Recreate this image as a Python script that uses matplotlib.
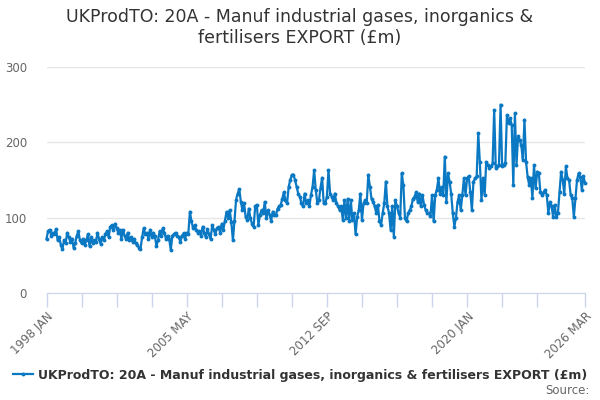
import numpy as np
import matplotlib
matplotlib.use('Agg')
import matplotlib.pyplot as plt

# ── Data: monthly values, 1998 JAN .. 2026 MAR (£m) ───────────────────────────
y1998 = [72, 82, 84, 76, 80, 78, 85, 70, 74, 64, 58, 70]
y1999 = [66, 80, 74, 68, 72, 60, 66, 76, 82, 70, 66, 72]
y2000 = [64, 70, 78, 62, 74, 66, 70, 68, 80, 72, 65, 74]
y2001 = [70, 78, 82, 74, 88, 90, 84, 92, 86, 80, 84, 72]
y2002 = [84, 76, 72, 80, 70, 74, 68, 72, 66, 64, 60, 58]
y2003 = [74, 86, 78, 80, 72, 84, 74, 80, 76, 62, 70, 82]
y2004 = [76, 86, 80, 72, 76, 72, 57, 76, 78, 80, 76, 74]
y2005 = [68, 76, 79, 72, 80, 78, 108, 95, 86, 90, 84, 80]
y2006 = [82, 76, 88, 80, 74, 85, 78, 72, 90, 84, 78, 86]
y2007 = [88, 80, 92, 84, 96, 108, 100, 110, 94, 70, 96, 124]
y2008 = [132, 138, 121, 110, 119, 101, 97, 112, 99, 92, 88, 115]
y2009 = [117, 90, 104, 110, 106, 121, 99, 110, 104, 96, 108, 103]
y2010 = [103, 112, 115, 117, 125, 134, 123, 119, 141, 150, 157, 157]
y2011 = [150, 141, 132, 128, 119, 115, 132, 119, 123, 115, 130, 141]
y2012 = [163, 137, 119, 123, 140, 153, 119, 119, 128, 163, 132, 128]
y2013 = [123, 132, 119, 115, 110, 115, 97, 123, 99, 125, 95, 123]
y2014 = [97, 106, 78, 101, 110, 132, 97, 119, 123, 120, 157, 141]
y2015 = [125, 121, 115, 106, 117, 96, 90, 106, 119, 148, 115, 106]
y2016 = [84, 115, 75, 123, 115, 106, 100, 159, 143, 99, 95, 106]
y2017 = [110, 115, 125, 128, 134, 121, 132, 115, 130, 117, 110, 106]
y2018 = [106, 102, 130, 95, 130, 137, 152, 132, 141, 130, 181, 121]
y2019 = [159, 148, 132, 106, 88, 100, 121, 130, 110, 130, 152, 130]
y2020 = [152, 155, 134, 110, 148, 152, 155, 212, 174, 123, 152, 130]
y2021 = [174, 170, 166, 168, 172, 243, 166, 168, 170, 250, 168, 170]
y2022 = [172, 236, 225, 232, 223, 143, 239, 170, 208, 203, 196, 177]
y2023 = [230, 174, 154, 143, 152, 126, 170, 139, 161, 159, 134, 130]
y2024 = [134, 137, 130, 106, 121, 115, 101, 117, 101, 106, 134, 161]
y2025 = [150, 132, 168, 152, 150, 130, 126, 101, 126, 150, 159, 154]
y2026 = [137, 155, 146]

values = (y1998 + y1999 + y2000 + y2001 + y2002 + y2003 + y2004 + y2005 +
          y2006 + y2007 + y2008 + y2009 + y2010 + y2011 + y2012 + y2013 +
          y2014 + y2015 + y2016 + y2017 + y2018 + y2019 + y2020 + y2021 +
          y2022 + y2023 + y2024 + y2025 + y2026)

tick_labels = {0: '1998 JAN', 88: '2005 MAY', 176: '2012 SEP',
               264: '2020 JAN', 338: '2026 MAR'}
y_ticks = [0, 100, 200, 300]

title = 'UKProdTO: 20A - Manuf industrial gases, inorganics &\nfertilisers EXPORT (£m)'
series_name = 'UKProdTO: 20A - Manuf industrial gases, inorganics & fertilisers EXPORT (£m)'

# ── Figure ────────────────────────────────────────────────────────────────────
W, H = 600, 400
fig = plt.figure(figsize=(6, 4), dpi=100)
ax = fig.add_axes([46.5 / W, (H - 293) / H, (585 - 46.5) / W, (293 - 67) / H])

line_color = '#0a78c2'
months = np.arange(len(values))
line, = ax.plot(months, values, color=line_color, linewidth=1.6,
                marker='o', markersize=2.8, markeredgewidth=0, clip_on=False)

ax.set_xlim(0, len(values) - 1)
ax.set_ylim(0, 300)
ax.set_yticks(y_ticks)
ax.set_yticklabels([str(t) for t in y_ticks])
ax.grid(axis='y', color='#e6e6e6', linewidth=1)
ax.set_axisbelow(True)

major = list(range(0, 309, 22)) + [338]
ax.set_xticks(major)
ax.set_xticklabels([tick_labels.get(m, '') for m in major],
                   rotation=45, ha='right', rotation_mode='anchor')

for side in ('top', 'right', 'left'):
    ax.spines[side].set_visible(False)
ax.spines['bottom'].set_color('#ccd6eb')
ax.tick_params(axis='x', colors='#ccd6eb', length=10, width=1,
               labelcolor='#666666', labelsize=8.5, pad=2)
ax.tick_params(axis='y', length=0, labelcolor='#666666', labelsize=8.5, pad=14)

fig.text(0.5, 1 - 8 / H, title, ha='center', va='top', fontsize=12.5,
         color='#333333', linespacing=1.2)

fig.legend([line], [series_name], loc='center', bbox_to_anchor=(0.5, 1 - 375 / H),
           frameon=False, handlelength=1.6, handletextpad=0.4,
           prop={'weight': 'bold', 'size': 9}, labelcolor='#333333')

fig.text(1 - 10 / W, 1 - 390 / H, 'Source:', ha='right', va='center',
         fontsize=8.5, color='#666666')

plt.savefig('out.png', dpi=100)
plt.close()
